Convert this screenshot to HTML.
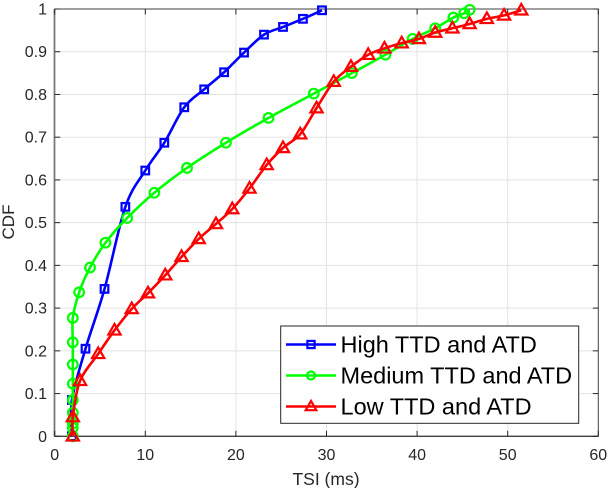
<!DOCTYPE html>
<html>
<head>
<meta charset="utf-8">
<style>
html,body{margin:0;padding:0;background:#fff;width:608px;height:488px;overflow:hidden}
svg{display:block}
text{font-family:"Liberation Sans",sans-serif}
</style>
</head>
<body>
<svg id="chart" xmlns="http://www.w3.org/2000/svg" width="608" height="488" viewBox="0 0 608 488"></svg>
<script>
const xTickValues = [0, 10, 20, 30, 40, 50, 60];
const yTickValues = [0, 0.1, 0.2, 0.3, 0.4, 0.5, 0.6, 0.7, 0.8, 0.9, 1];
const yTickLabels = ['0', '0.1', '0.2', '0.3', '0.4', '0.5', '0.6', '0.7', '0.8', '0.9', '1'];

const highX = [1.9, 1.9, 3.4, 5.5, 7.8, 10, 12.1, 14.3, 16.5, 18.7, 20.9, 23.1, 25.2, 27.4, 29.5];
const highY = [0, 0.085, 0.205, 0.345, 0.537, 0.622, 0.687, 0.77, 0.812, 0.852, 0.898, 0.94, 0.958, 0.977, 0.997];

const mediumX = [2, 2, 2, 2, 2, 2, 2, 2, 2, 2.7, 3.9, 5.6, 8, 11, 14.6, 18.9, 23.6, 28.6, 32.8, 36.5, 39.5, 42, 44, 45.2, 45.8];
const mediumY = [0, 0.02, 0.03, 0.055, 0.085, 0.123, 0.168, 0.22, 0.277, 0.337, 0.395, 0.453, 0.511, 0.57, 0.628, 0.687, 0.745, 0.802, 0.85, 0.893, 0.93, 0.955, 0.98, 0.99, 0.998];

const lowX = [2, 2, 2.8, 4.8, 6.6, 8.5, 10.3, 12.2, 14, 15.9, 17.8, 19.6, 21.5, 23.4, 25.2, 27.1, 28.9, 30.8, 32.7, 34.6, 36.4, 38.3, 40.2, 42, 43.9, 45.8, 47.7, 49.6, 51.5];
const lowY = [0, 0.045, 0.13, 0.193, 0.248, 0.298, 0.335, 0.377, 0.42, 0.462, 0.497, 0.532, 0.58, 0.635, 0.675, 0.707, 0.768, 0.83, 0.865, 0.893, 0.908, 0.92, 0.93, 0.945, 0.955, 0.965, 0.977, 0.985, 0.997];

const legendLabels = ['High TTD and ATD', 'Medium TTD and ATD', 'Low TTD and ATD'];

const NS = 'http://www.w3.org/2000/svg';
const svg = document.getElementById('chart');
const L = 54.7, R = 598.3, T = 9, B = 436.3;
const xMax = 60, yMax = 1;
function sx(v) { return L + (R - L) * v / xMax; }
function sy(v) { return B - (B - T) * v / yMax; }
function mk(tag, attrs, parent) {
  const e = document.createElementNS(NS, tag);
  for (const k in attrs) e.setAttribute(k, attrs[k]);
  (parent || svg).appendChild(e);
  return e;
}
function smoothPath(xs, ys) {
  const p = xs.map((x, i) => [sx(x), sy(ys[i])]);
  let d = 'M' + p[0][0].toFixed(2) + ' ' + p[0][1].toFixed(2);
  for (let i = 0; i < p.length - 1; i++) {
    const a = p[Math.max(i - 1, 0)], b = p[i], c = p[i + 1], e = p[Math.min(i + 2, p.length - 1)];
    const c1x = b[0] + (c[0] - a[0]) / 6, c1y = b[1] + (c[1] - a[1]) / 6;
    const c2x = c[0] - (e[0] - b[0]) / 6, c2y = c[1] - (e[1] - b[1]) / 6;
    d += 'C' + c1x.toFixed(2) + ' ' + c1y.toFixed(2) + ' ' + c2x.toFixed(2) + ' ' + c2y.toFixed(2) + ' ' + c[0].toFixed(2) + ' ' + c[1].toFixed(2);
  }
  return d;
}
function drawMarker(kind, cx, cy, color, parent, size) {
  let m;
  if (kind === 'square') {
    m = mk('rect', {x: cx - size, y: cy - size, width: size * 2, height: size * 2, fill: 'none', stroke: color, 'stroke-width': 2.2}, parent);
  } else if (kind === 'circle') {
    m = mk('circle', {cx: cx, cy: cy, r: size, fill: 'none', stroke: color, 'stroke-width': 2.2}, parent);
  } else {
    m = mk('polygon', {points: (cx) + ',' + (cy - size * 1.2) + ' ' + (cx + size * 1.15) + ',' + (cy + size * 0.8) + ' ' + (cx - size * 1.15) + ',' + (cy + size * 0.8), fill: 'none', stroke: color, 'stroke-width': 2.2}, parent);
  }
  return m;
}

// grid
const grid = mk('g', {});


xTickValues.slice(1, -1).forEach(function (v) {
  mk('line', {x1: sx(v), x2: sx(v), y1: T, y2: B, stroke: '#e2e2e2', 'stroke-width': 1}, grid);
});
yTickValues.slice(1, -1).forEach(function (v) {
  mk('line', {x1: L, x2: R, y1: sy(v), y2: sy(v), stroke: '#e2e2e2', 'stroke-width': 1}, grid);
});

// axes frame and ticks
const axes = mk('g', {});


mk('rect', {x: L, y: T, width: R - L, height: B - T, fill: 'none', stroke: '#404040', 'stroke-width': 1}, axes);
mk('line', {x1: L - 0.3, x2: L - 0.3, y1: T, y2: B, stroke: '#777', 'stroke-width': 1.6}, axes);
mk('line', {x1: L, x2: R, y1: B, y2: B, stroke: '#262626', 'stroke-width': 1}, axes);
xTickValues.forEach(function (v) {
  mk('line', {x1: sx(v), x2: sx(v), y1: B, y2: B - 5.5, stroke: '#262626', 'stroke-width': 1}, axes);
  mk('line', {x1: sx(v), x2: sx(v), y1: T, y2: T + 5.5, stroke: '#262626', 'stroke-width': 1}, axes);
  const t = mk('text', {x: sx(v), y: 460, 'text-anchor': 'middle', 'font-size': 16, fill: '#262626'}, axes);
  t.textContent = String(v);
  
  
});
yTickValues.forEach(function (v, i) {
  mk('line', {x1: L, x2: L + 5.5, y1: sy(v), y2: sy(v), stroke: '#262626', 'stroke-width': 1}, axes);
  mk('line', {x1: R, x2: R - 5.5, y1: sy(v), y2: sy(v), stroke: '#262626', 'stroke-width': 1}, axes);
  const t = mk('text', {x: 47, y: sy(v) + 5.5, 'text-anchor': 'end', 'font-size': 16, fill: '#262626'}, axes);
  t.textContent = yTickLabels[i];
  
  
});

const xTitle = mk('text', {x: 326, y: 485, 'text-anchor': 'middle', 'font-size': 17.5, fill: '#262626'});
xTitle.textContent = 'TSI (ms)';


const yTitle = mk('text', {x: 0, y: 0, transform: 'translate(14 222) rotate(-90)', 'text-anchor': 'middle', 'font-size': 17, fill: '#262626'});
yTitle.textContent = 'CDF';



// series
function drawSeries(name, xs, ys, color, kind, size) {
  const g = mk('g', {});
  
  
  mk('path', {d: smoothPath(xs, ys), fill: 'none', stroke: color, 'stroke-width': 2.6, 'stroke-linejoin': 'round'}, g);
  xs.forEach(function (x, i) {
    const m = drawMarker(kind, sx(x), sy(ys[i]), color, g, size);
    
    
  });
}
drawSeries('series-high', highX, highY, '#0000ff', 'square', 3.8);
drawSeries('series-medium', mediumX, mediumY, '#00ff00', 'circle', 4.8);
drawSeries('series-low', lowX, lowY, '#ff0000', 'triangle', 5.3);

// legend
const legend = mk('g', {});


mk('rect', {x: 280.7, y: 326, width: 298, height: 97.3, fill: '#fff', stroke: '#262626', 'stroke-width': 1}, legend);
const legendColors = ['#0000ff', '#00ff00', '#ff0000'];
const legendKinds = ['square', 'circle', 'triangle'];
const legendSizes = [3.6, 4, 4.6];
legendLabels.forEach(function (label, i) {
  const y = 344.5 + i * 31;
  const row = mk('g', {}, legend);
  
  
  mk('line', {x1: 286, x2: 336, y1: y, y2: y, stroke: legendColors[i], 'stroke-width': 2.6}, row);
  drawMarker(legendKinds[i], 311, y, legendColors[i], row, legendSizes[i]);
  const t = mk('text', {x: 340.5, y: y + 8.2, 'font-size': 23.5, fill: '#000'}, row);
  t.textContent = label;
});
</script>
</body>
</html>
